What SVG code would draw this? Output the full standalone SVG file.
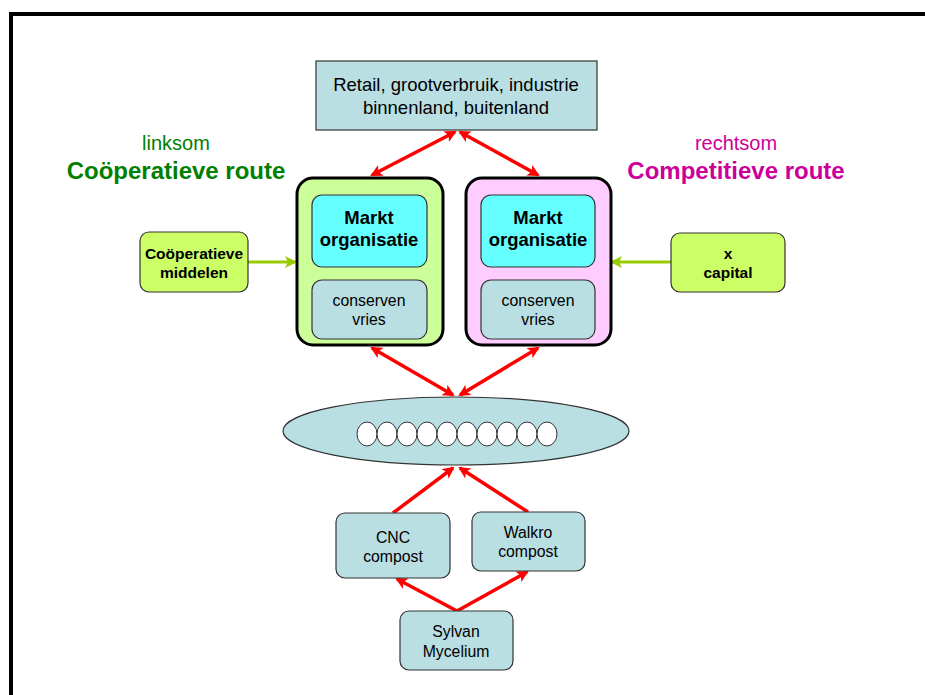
<svg xmlns="http://www.w3.org/2000/svg" width="925" height="695" viewBox="0 0 925 695">
<defs>
<style>
text{font-family:"Liberation Sans",Arial,sans-serif;text-anchor:middle;fill:#000}
.box{stroke:#333;stroke-width:1.2}
.teal{fill:#b9dfe3}
.lime{fill:#ccff66}
.red{stroke:#ff0000;stroke-width:3.5;fill:none}
.grn{stroke:#99cc00;stroke-width:3;fill:none}
.t15{font-size:15.8px}
.t17{font-size:18.5px}
.t20{font-size:20px}
.b13{font-size:15.5px;font-weight:bold}
.b18{font-size:18.5px;font-weight:bold}
.b24{font-size:24px;font-weight:bold}
</style>
<marker id="ra" viewBox="0 0 12 12" refX="10" refY="6" markerWidth="12" markerHeight="12" markerUnits="userSpaceOnUse" orient="auto-start-reverse">
<path d="M0,0 L12,6 L0,12 L3,6 Z" fill="#ff0000"/>
</marker>
<marker id="ga" viewBox="0 0 12 12" refX="10" refY="6" markerWidth="12" markerHeight="12" markerUnits="userSpaceOnUse" orient="auto">
<path d="M0,0 L12,6 L0,12 L3,6 Z" fill="#99cc00"/>
</marker>
</defs>
<rect x="11" y="14" width="940" height="720" fill="none" stroke="#000" stroke-width="4"/>

<g id="labels">
<text x="176" y="150" class="t20" style="fill:#008000">linksom</text>
<text x="176" y="179" class="b24" style="fill:#008000">Coöperatieve route</text>
<text x="736" y="150" class="t20" style="fill:#cc0099">rechtsom</text>
<text x="736" y="179" class="b24" style="fill:#cc0099">Competitieve route</text>
</g>

<g id="connectors">
<line x1="455" y1="132" x2="372" y2="175" class="red" marker-start="url(#ra)" marker-end="url(#ra)"/>
<line x1="460" y1="132" x2="538" y2="175" class="red" marker-start="url(#ra)" marker-end="url(#ra)"/>
<line x1="372" y1="348" x2="453" y2="395" class="red" marker-start="url(#ra)" marker-end="url(#ra)"/>
<line x1="538" y1="348" x2="460" y2="395" class="red" marker-start="url(#ra)" marker-end="url(#ra)"/>
<line x1="393" y1="513" x2="453" y2="468" class="red" marker-end="url(#ra)"/>
<line x1="528" y1="512" x2="460" y2="468" class="red" marker-end="url(#ra)"/>
<line x1="457" y1="611" x2="397" y2="579" class="red" marker-end="url(#ra)"/>
<line x1="457" y1="611" x2="527" y2="572" class="red" marker-end="url(#ra)"/>
<line x1="248" y1="262" x2="295" y2="262" class="grn" marker-end="url(#ga)"/>
<line x1="671" y1="262" x2="612" y2="262" class="grn" marker-end="url(#ga)"/>
</g>

<g id="market">
<rect x="316" y="61" width="281" height="69" class="box teal"/>
<text x="456" y="91" class="t17">Retail, grootverbruik, industrie</text>
<text x="456" y="114" class="t17">binnenland, buitenland</text>
</g>

<g id="cooperatief">
<rect x="297" y="178" width="146" height="167" rx="16" fill="#ccff99" stroke="#000" stroke-width="3"/>
<rect x="312" y="195" width="115" height="72" rx="10" fill="#66ffff" class="box"/>
<text x="369" y="224" class="b18">Markt</text>
<text x="369" y="246" class="b18">organisatie</text>
<rect x="312" y="280" width="115" height="59" rx="10" class="box teal"/>
<text x="369" y="306" class="t15">conserven</text>
<text x="369" y="325" class="t15">vries</text>
</g>

<g id="competitief">
<rect x="466" y="178" width="145" height="167" rx="16" fill="#ffccff" stroke="#000" stroke-width="3"/>
<rect x="481" y="195" width="114" height="72" rx="10" fill="#66ffff" class="box"/>
<text x="538" y="224" class="b18">Markt</text>
<text x="538" y="246" class="b18">organisatie</text>
<rect x="481" y="280" width="114" height="59" rx="10" class="box teal"/>
<text x="538" y="306" class="t15">conserven</text>
<text x="538" y="325" class="t15">vries</text>
</g>

<g id="coop-middelen">
<rect x="140" y="232" width="108" height="60" rx="9" class="box lime"/>
<text x="194" y="259" class="b13">Coöperatieve</text>
<text x="194" y="278" class="b13">middelen</text>
</g>

<g id="x-capital">
<rect x="671" y="233" width="114" height="59" rx="9" class="box lime"/>
<text x="728" y="259" class="b13">x</text>
<text x="728" y="278" class="b13">capital</text>
</g>

<g id="telers">
<ellipse cx="456" cy="431" rx="173" ry="34" class="box teal"/>
<g fill="#fff" stroke="#333" stroke-width="1">
<ellipse cx="367" cy="434" rx="10" ry="12"/>
<ellipse cx="387" cy="434" rx="10" ry="12"/>
<ellipse cx="407" cy="434" rx="10" ry="12"/>
<ellipse cx="427" cy="434" rx="10" ry="12"/>
<ellipse cx="447" cy="434" rx="10" ry="12"/>
<ellipse cx="467" cy="434" rx="10" ry="12"/>
<ellipse cx="487" cy="434" rx="10" ry="12"/>
<ellipse cx="507" cy="434" rx="10" ry="12"/>
<ellipse cx="527" cy="434" rx="10" ry="12"/>
<ellipse cx="547" cy="434" rx="10" ry="12"/>
</g>
</g>

<g id="cnc">
<rect x="336" y="513" width="114" height="65" rx="9" class="box teal"/>
<text x="393" y="543" class="t15">CNC</text>
<text x="393" y="562" class="t15">compost</text>
</g>

<g id="walkro">
<rect x="472" y="512" width="113" height="59" rx="9" class="box teal"/>
<text x="528" y="538" class="t15">Walkro</text>
<text x="528" y="557" class="t15">compost</text>
</g>

<g id="sylvan">
<rect x="400" y="611" width="113" height="59" rx="9" class="box teal"/>
<text x="456" y="637" class="t15">Sylvan</text>
<text x="456" y="657" class="t15">Mycelium</text>
</g>
</svg>
